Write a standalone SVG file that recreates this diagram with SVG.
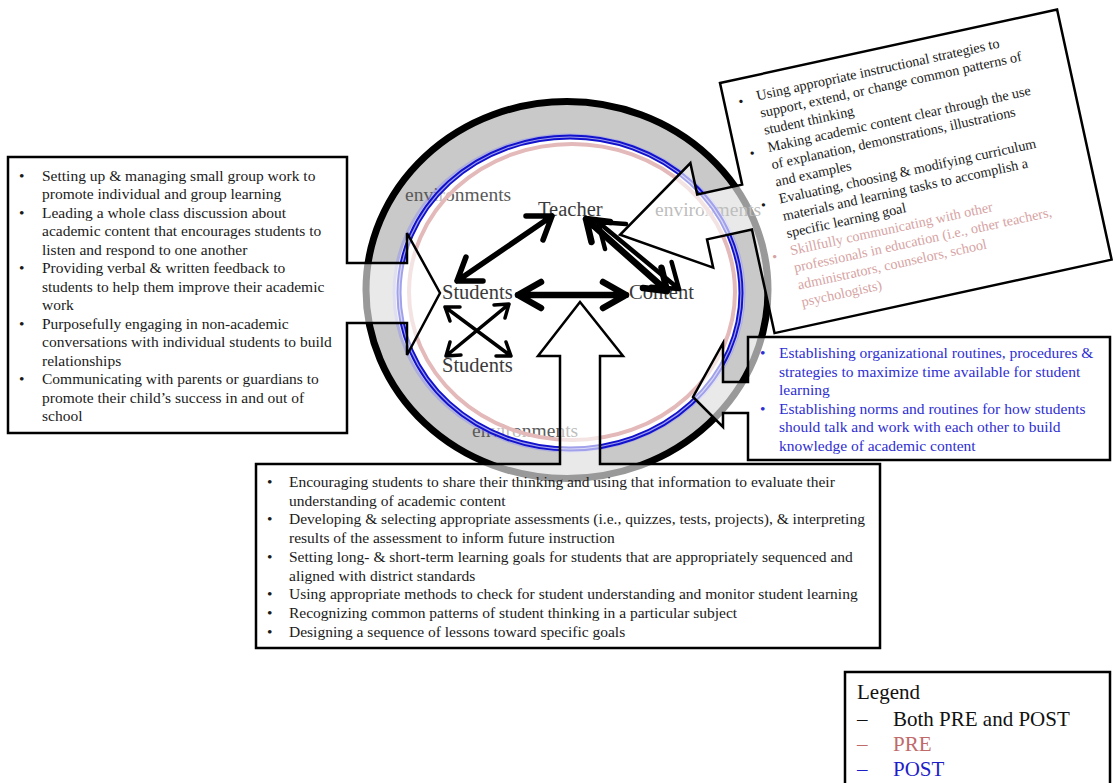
<svg xmlns="http://www.w3.org/2000/svg" width="1115" height="783" viewBox="0 0 1115 783">
  <defs>
    <style>
      .serif { font-family: "Liberation Serif", "Times New Roman", serif; }
      .box { fill: #ffffff; fill-opacity: 0.6; stroke: #000; stroke-width: 2.5; stroke-linejoin: miter; }
      .body { font-size: 15.5px; fill: #1a1a1a; }
      .blue { fill: #2e2ed2; }
      .pink { fill: #d6a3a3; }
      .env { font-size: 19.5px; fill: #5a5a5a; }
      .node { font-size: 20.5px; fill: #3a3a3a; }
      .arr { fill: none; stroke: #000; stroke-linecap: round; stroke-linejoin: round; }
    </style>
  </defs>
  <rect width="1115" height="783" fill="#ffffff"/>

  <!-- environment ring -->
  <g id="ring">
    <ellipse cx="567" cy="290" rx="201" ry="188.5" fill="#c9c9c9" stroke="#000" stroke-width="7"/>
    <ellipse cx="570" cy="293" rx="172" ry="156" fill="#ffffff"/>
    <text class="serif env" x="405" y="201">environments</text>
    <text class="serif env" x="655" y="216">environments</text>
    <text class="serif env" x="472" y="437">environments</text>
    <ellipse cx="570" cy="293" rx="168" ry="152" fill="none" stroke="#ffffff" stroke-opacity="0.6" stroke-width="13"/>
    <ellipse cx="569" cy="293" rx="175" ry="158" fill="none" stroke="#7a7aff" stroke-opacity="0.35" stroke-width="3"/>
    <ellipse cx="570" cy="293" rx="171" ry="156" fill="none" stroke="#1212cc" stroke-width="5"/>
    <ellipse cx="570" cy="293" rx="171" ry="156" fill="none" stroke="#ffffff" stroke-opacity="0.6" stroke-width="1.2"/>
    <ellipse cx="572" cy="292" rx="163" ry="148" fill="none" stroke="#e3b9b9" stroke-width="4"/>
  </g>

  <!-- callout boxes -->
  <g id="box-students">
    <path class="box" d="M8,157 H347 V263 H407 V233 L440,293 L407,355 V323 H347 V433 H8 Z"/>
    <g class="serif body">
      <text x="19" y="180.5">•</text>
      <text x="19" y="217.5">•</text>
      <text x="19" y="273">•</text>
      <text x="19" y="328.5">•</text>
      <text x="19" y="384">•</text>
      <text x="42" y="180.5">Setting up &amp; managing small group work to</text>
      <text x="42" y="199">promote individual and group learning</text>
      <text x="42" y="217.5">Leading a whole class discussion about</text>
      <text x="42" y="236">academic content that encourages students to</text>
      <text x="42" y="254.5">listen and respond to one another</text>
      <text x="42" y="273">Providing verbal &amp; written feedback to</text>
      <text x="42" y="291.5">students to help them improve their academic</text>
      <text x="42" y="310">work</text>
      <text x="42" y="328.5">Purposefully engaging in non-academic</text>
      <text x="42" y="347">conversations with individual students to build</text>
      <text x="42" y="365.5">relationships</text>
      <text x="42" y="384">Communicating with parents or guardians to</text>
      <text x="42" y="402.5">promote their child’s success in and out of</text>
      <text x="42" y="421">school</text>
    </g>
  </g>

  <g id="box-teacher" transform="translate(720,83) rotate(-12.3)">
    <path class="box" d="M0,0 H345 V256 H0 V150 H-46 V179 L-130,127 L-46,72 V104 H0 Z"/>
    <g class="serif" font-size="14.2px">
      <g fill="#1a1a1a">
        <text x="14" y="27">•</text>
        <text x="14" y="80">•</text>
        <text x="14" y="133">•</text>
        <text x="33" y="25">Using appropriate instructional strategies to</text>
        <text x="33" y="42.6">support, extend, or change common patterns of</text>
        <text x="33" y="60.2">student thinking</text>
        <text x="33" y="77.8">Making academic content clear through the use</text>
        <text x="33" y="95.4">of explanation, demonstrations, illustrations</text>
        <text x="33" y="113">and examples</text>
        <text x="33" y="130.6">Evaluating, choosing &amp; modifying curriculum</text>
        <text x="33" y="148.2">materials and learning tasks to accomplish a</text>
        <text x="33" y="165.8">specific learning goal</text>
      </g>
      <g class="pink">
        <text x="14" y="186">•</text>
        <text x="33" y="183.4">Skillfully communicating with other</text>
        <text x="33" y="201">professionals in education (i.e., other teachers,</text>
        <text x="33" y="218.6">administrators, counselors, school</text>
        <text x="33" y="236.2">psychologists)</text>
      </g>
    </g>
  </g>

  <g id="box-routines">
    <path class="box" d="M748,337 H1110 V460 H748 V413 H723 V427 L693,397 L723,343 V382 H748 Z"/>
    <g class="serif body blue">
      <text x="760" y="358">•</text>
      <text x="760" y="413.5">•</text>
      <text x="779" y="358">Establishing organizational routines, procedures &amp;</text>
      <text x="779" y="376.5">strategies to maximize time available for student</text>
      <text x="779" y="395">learning</text>
      <text x="779" y="413.5">Establishing norms and routines for how students</text>
      <text x="779" y="432">should talk and work with each other to build</text>
      <text x="779" y="450.5">knowledge of academic content</text>
    </g>
  </g>

  <g id="box-content">
    <path class="box" d="M256,464 H560 V356 H538 L580,302 L623,356 H600 V464 H880 V648 H256 Z"/>
    <g class="serif body">
      <text x="267" y="487">•</text>
      <text x="267" y="524.4">•</text>
      <text x="267" y="561.8">•</text>
      <text x="267" y="599.2">•</text>
      <text x="267" y="617.9">•</text>
      <text x="267" y="636.6">•</text>
      <text x="289" y="487">Encouraging students to share their thinking and using that information to evaluate their</text>
      <text x="289" y="505.7">understanding of academic content</text>
      <text x="289" y="524.4">Developing &amp; selecting appropriate assessments (i.e., quizzes, tests, projects), &amp; interpreting</text>
      <text x="289" y="543.1">results of the assessment to inform future instruction</text>
      <text x="289" y="561.8">Setting long- &amp; short-term learning goals for students that are appropriately sequenced and</text>
      <text x="289" y="580.5">aligned with district standards</text>
      <text x="289" y="599.2">Using appropriate methods to check for student understanding and monitor student learning</text>
      <text x="289" y="617.9">Recognizing common patterns of student thinking in a particular subject</text>
      <text x="289" y="636.6">Designing a sequence of lessons toward specific goals</text>
    </g>
  </g>

  <!-- central nodes -->
  <g id="node-teacher"><text class="serif node" x="538" y="216">Teacher</text></g>
  <g id="node-students"><text class="serif node" x="442" y="299">Students</text></g>
  <g id="node-content"><text class="serif node" x="629" y="299">Content</text></g>
  <g id="node-students-2"><text class="serif node" x="442" y="372">Students</text></g>

  <!-- relations between nodes -->
  <g id="connectors">
    <path class="arr" stroke-width="5.5" d="M457,281 L552,216 M526,216 L552,216 L543,240 M466,257 L457,281 L483,281"/>
    <path class="arr" stroke-width="6.5" d="M518,295 H626 M541,282 L518,295 L541,308 M603,282 L626,295 L603,308"/>
    <path class="arr" stroke-width="3.5" d="M445,307 L511,356 M506,342 L511,356 L496,356 M450,321 L445,307 L460,307"/>
    <path class="arr" stroke-width="3.5" d="M509,304 L446,356 M461,355 L446,356 L450,342 M494,305 L509,304 L505,318"/>
    <path class="arr" stroke-width="4.5" d="M598,222 L679,289 M671.6,262 L679,289 L651,286.7 M605,249 L598,222 L626,224"/>
    <path class="arr" stroke="#dca0a0" stroke-width="6.5" d="M586,219 L667,291 M661.5,267.7 L667,291 L643,288 M591.5,242 L586,219 L610,222"/>
  </g>

  <g id="legend">
    <rect x="845" y="672" width="265" height="120" fill="#ffffff" stroke="#000" stroke-width="2.5"/>
    <g class="serif" font-size="21px">
      <text x="857" y="699" fill="#111">Legend</text>
      <text x="857" y="726" fill="#111">–</text>
      <text x="893" y="726" fill="#111">Both PRE and POST</text>
      <text x="857" y="751" fill="#c06a6a">–</text>
      <text x="893" y="751" fill="#c06a6a">PRE</text>
      <text x="857" y="776" fill="#1e1ec8">–</text>
      <text x="893" y="776" fill="#1e1ec8">POST</text>
    </g>
  </g>
</svg>
